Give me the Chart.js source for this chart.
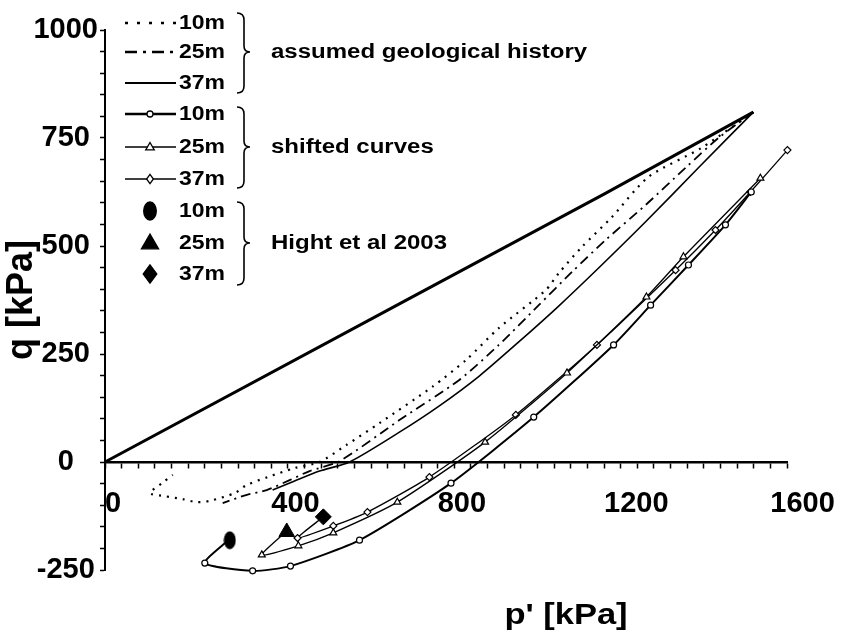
<!DOCTYPE html>
<html><head><meta charset="utf-8">
<script src="https://cdn.jsdelivr.net/npm/chart.js@4.4.0/dist/chart.umd.min.js"></script>
<style>html,body{margin:0;padding:0;background:#fff;}#wrap{width:843px;height:635px;position:relative;}</style>
</head><body><div id="wrap"><canvas id="c" width="843" height="635"></canvas></div>
<script>
const FONT = '"Liberation Sans", Arial, sans-serif';

// ---- data (p' in kPa, q in kPa) ----
const loadP = [0, 700, 1200, 1559];
const loadQ = [0, 362, 620, 810];

const geo10P = [1559,1434,1307,1219,1147,1091,1060,947,868,787,660,580,516,456,391,341,312,252,221,187,144,108,137,163];
const geo10Q = [810,727,660,567,498,437,398,310,236,174,90,39,0,-14,-35,-53,-72,-90,-93,-86,-79,-72,-49,-30];

const geo25P = [1559,1475,1396,1300,1204,1123,1043,947,852,708,564,492,444,389,341,283];
const geo25Q = [810,750,681,595,514,440,363,271,190,97,2,-21,-42,-65,-76,-95];

const geo37P = [1559,1427,1300,1187,1091,995,900,804,708,588,516,456,403];
const geo37Q = [810,681,556,449,361,278,199,130,69,0,-21,-44,-65];

const shift10P = [1554,1492,1403,1312,1223,1031,832,612,446,355,240,300];
const shift10Q = [625,549,456,363,271,104,-49,-181,-241,-252,-234,-178];
const shift25P = [1576,1391,1302,1111,914,703,549,465,377,434];
const shift25Q = [657,475,382,206,46,-93,-164,-194,-215,-162];
const shift37P = [1641,1552,1468,1372,1183,988,780,631,549,463,525];
const shift37Q = [722,625,537,444,271,109,-35,-116,-148,-176,-127];

const hightP = [300, 437, 525];
const hightQ = [-181, -162, -127];

const depthLabels = ['10m', '25m', '37m'];
const groupLabels = ['assumed geological history', 'shifted curves', 'Hight et al 2003'];
const xTickLabels = [0, 400, 800, 1200, 1600];
const yTickLabels = [-250, 0, 250, 500, 750, 1000];
const xTitle = "p' [kPa]";
const yTitle = 'q [kPa]';

function pts(P, Q) { return P.map((p, i) => ({ x: p, y: Q[i] })); }

function ellipseStyle(w, h) {
  const c = document.createElement('canvas');
  c.width = w; c.height = h;
  const g = c.getContext('2d');
  g.fillStyle = '#000';
  g.beginPath();
  g.ellipse(w / 2, h / 2, w / 2 - 0.5, h / 2 - 0.5, 0, 0, Math.PI * 2);
  g.fill();
  return c;
}
const ellipseImg = ellipseStyle(13, 19);

const DOT = [2, 6];
const DASHDOT = [10, 5, 2, 5];

const datasets = [
  { label: 'Hight 10m', data: [{ x: hightP[0], y: hightQ[0] }], pointStyle: ellipseImg, showLine: false },
  { label: 'Hight 25m', data: [{ x: hightP[1], y: hightQ[1] }], pointStyle: 'triangle', pointRadius: 9,
    pointBackgroundColor: '#000', pointBorderColor: '#000', showLine: false },
  { label: 'Hight 37m', data: [{ x: hightP[2], y: hightQ[2] }], pointStyle: 'rectRot', pointRadius: 8,
    pointBackgroundColor: '#000', pointBorderColor: '#000', showLine: false },
  { label: 'shifted 10m', data: pts(shift10P, shift10Q), showLine: true, borderColor: '#000', borderWidth: 2,
    pointStyle: 'circle', pointRadius: 3, pointBackgroundColor: '#fff', pointBorderColor: '#000', pointBorderWidth: 1.2, tension: 0.2 },
  { label: 'shifted 25m', data: pts(shift25P, shift25Q), showLine: true, borderColor: '#000', borderWidth: 1.3,
    pointStyle: 'triangle', pointRadius: 4, pointBackgroundColor: '#fff', pointBorderColor: '#000', pointBorderWidth: 1.2, tension: 0.2 },
  { label: 'shifted 37m', data: pts(shift37P, shift37Q), showLine: true, borderColor: '#000', borderWidth: 1.3,
    pointStyle: 'rectRot', pointRadius: 3.5, pointBackgroundColor: '#fff', pointBorderColor: '#000', pointBorderWidth: 1.2, tension: 0.2 },
  { label: 'loading', data: pts(loadP, loadQ), showLine: true, borderColor: '#000', borderWidth: 3, pointRadius: 0, tension: 0 },
  { label: 'assumed 10m', data: pts(geo10P, geo10Q), showLine: true, borderColor: '#000', borderWidth: 2.2,
    borderDash: DOT, pointRadius: 0, tension: 0.25 },
  { label: 'assumed 25m', data: pts(geo25P, geo25Q), showLine: true, borderColor: '#000', borderWidth: 1.8,
    borderDash: DASHDOT, pointRadius: 0, tension: 0.25 },
  { label: 'assumed 37m', data: pts(geo37P, geo37Q), showLine: true, borderColor: '#000', borderWidth: 1.6,
    pointRadius: 0, tension: 0.25 }
];
datasets.forEach(d => { d.clip = false; });

function sText(ctx, text, x, y, size, align, sx) {
  ctx.save();
  ctx.translate(x, y);
  ctx.scale(sx, 1);
  ctx.font = 'bold ' + size + 'px ' + FONT;
  ctx.textAlign = align;
  ctx.textBaseline = 'middle';
  ctx.fillText(text, 0, 0);
  ctx.restore();
}

function brace(ctx, x, top, bottom, tip) {
  ctx.beginPath();
  ctx.moveTo(x, top);
  ctx.quadraticCurveTo(x + 7, top, x + 7, top + 7);
  ctx.lineTo(x + 7, tip - 6);
  ctx.quadraticCurveTo(x + 7, tip, x + 13, tip);
  ctx.quadraticCurveTo(x + 7, tip, x + 7, tip + 6);
  ctx.lineTo(x + 7, bottom - 7);
  ctx.quadraticCurveTo(x + 7, bottom, x, bottom);
  ctx.stroke();
}

function marker(ctx, style, x, y, r, fill) {
  ctx.beginPath();
  if (style === 'circle') {
    ctx.arc(x, y, r, 0, Math.PI * 2);
  } else if (style === 'triangle') {
    ctx.moveTo(x, y - r);
    ctx.lineTo(x + r * 0.95, y + r * 0.65);
    ctx.lineTo(x - r * 0.95, y + r * 0.65);
    ctx.closePath();
  } else if (style === 'diamond') {
    ctx.moveTo(x, y - r * 1.15);
    ctx.lineTo(x + r * 0.85, y);
    ctx.lineTo(x, y + r * 1.15);
    ctx.lineTo(x - r * 0.85, y);
    ctx.closePath();
  } else if (style === 'ellipse') {
    ctx.ellipse(x, y, r * 0.7, r, 0, 0, Math.PI * 2);
  }
  ctx.fillStyle = fill ? '#000' : '#fff';
  ctx.fill();
  ctx.lineWidth = 1.3;
  ctx.stroke();
}

const overlay = {
  id: 'overlay',
  afterDraw(chart) {
    const ctx = chart.ctx;
    ctx.save();
    ctx.fillStyle = '#000';
    ctx.strokeStyle = '#000';
    // x axis title
    sText(ctx, xTitle, 566, 616, 30, 'center', 1.15);

    const rows = [23, 52, 83, 114, 147, 179, 211, 243, 274];
    const x0 = 125, x1 = 176, xm = 150;
    // assumed samples
    ctx.lineCap = 'butt';
    ctx.lineWidth = 2.5; ctx.setLineDash([3, 9]);
    ctx.beginPath(); ctx.moveTo(x0, rows[0]); ctx.lineTo(x1, rows[0]); ctx.stroke();
    ctx.lineWidth = 2.5; ctx.setLineDash([12, 6, 3, 6]);
    ctx.beginPath(); ctx.moveTo(x0, rows[1]); ctx.lineTo(x1, rows[1]); ctx.stroke();
    ctx.setLineDash([]);
    ctx.lineWidth = 1.8;
    ctx.beginPath(); ctx.moveTo(x0, rows[2]); ctx.lineTo(x1, rows[2]); ctx.stroke();
    // shifted samples
    ctx.lineWidth = 2.4;
    ctx.beginPath(); ctx.moveTo(x0, rows[3]); ctx.lineTo(x1, rows[3]); ctx.stroke();
    marker(ctx, 'circle', xm, rows[3], 3, false);
    ctx.lineWidth = 1.3;
    ctx.beginPath(); ctx.moveTo(x0, rows[4]); ctx.lineTo(x1, rows[4]); ctx.stroke();
    marker(ctx, 'triangle', xm, rows[4], 4.5, false);
    ctx.lineWidth = 1.3;
    ctx.beginPath(); ctx.moveTo(x0, rows[5]); ctx.lineTo(x1, rows[5]); ctx.stroke();
    marker(ctx, 'diamond', xm, rows[5], 4, false);
    // Hight samples
    marker(ctx, 'ellipse', xm, rows[6], 9, true);
    marker(ctx, 'triangle', xm, rows[7], 9, true);
    marker(ctx, 'diamond', xm, rows[8], 8, true);

    // depth labels
    for (let i = 0; i < 9; i++) {
      sText(ctx, depthLabels[i % 3], 179, rows[i], 20, 'left', 1.15);
    }
    // braces + group labels
    ctx.lineWidth = 1.6;
    brace(ctx, 237, 13, 93, 52);
    brace(ctx, 237, 107, 188, 147);
    brace(ctx, 237, 202, 285, 243);
    sText(ctx, groupLabels[0], 271, 52, 20, 'left', 1.2);
    sText(ctx, groupLabels[1], 271, 147, 20, 'left', 1.2);
    sText(ctx, groupLabels[2], 271, 243, 20, 'left', 1.2);
    ctx.restore();
  }
};

const tickFont = { family: FONT, size: 29, weight: 'bold' };

new Chart(document.getElementById('c'), {
  type: 'scatter',
  data: { datasets },
  options: {
    responsive: false,
    animation: false,
    devicePixelRatio: 1,
    layout: { padding: { left: 0, top: 30, right: 56, bottom: 65 } },
    plugins: { legend: { display: false }, tooltip: { enabled: false } },
    scales: {
      x: {
        type: 'linear', position: { y: 0 }, min: 0, max: 1640,
        afterFit: s => { s.height = 0; },
        ticks: {
          stepSize: 40, autoSkip: false, maxRotation: 0, minRotation: 0, includeBounds: false,
          align: 'start', padding: 20, color: '#000', font: tickFont,
          callback: v => (xTickLabels.includes(v) ? String(v) : '')
        },
        grid: { drawOnChartArea: false, drawTicks: true, tickLength: 5, tickColor: '#000', tickWidth: 1.5 },
        border: { display: true, color: '#000', width: 2.5 }
      },
      y: {
        type: 'linear', min: -250, max: 1000,
        afterFit: s => { s.width = 105; },
        ticks: {
          stepSize: 50, autoSkip: false, padding: 2, crossAlign: 'center', color: '#000', font: tickFont,
          callback: v => (yTickLabels.includes(v) ? String(v) : '')
        },
        grid: { drawOnChartArea: false, drawTicks: true, tickLength: 5, tickColor: '#000', tickWidth: 1.5 },
        border: { display: true, color: '#000', width: 2 },
        title: { display: true, text: yTitle, color: '#000', padding: 0, font: { family: FONT, size: 36, weight: 'bold' } }
      }
    }
  },
  plugins: [overlay]
});
</script>
</body></html>
